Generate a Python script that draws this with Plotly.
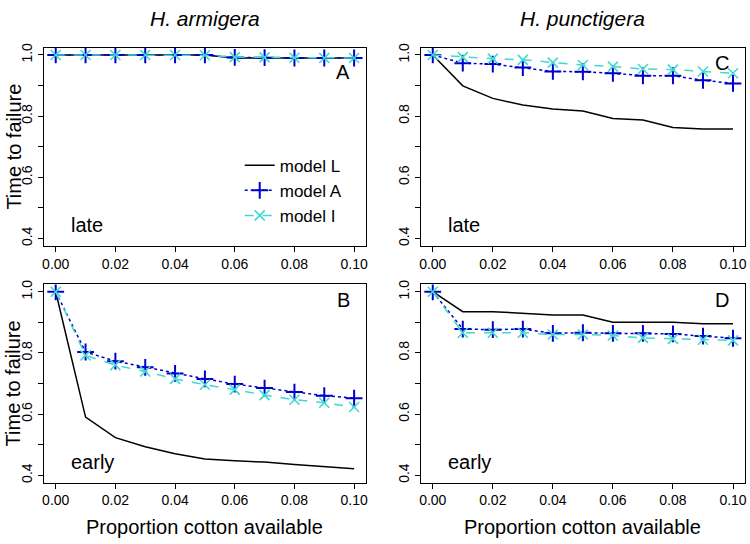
import plotly.graph_objects as go

# ---------------- data ----------------
proportion = [0.00, 0.01, 0.02, 0.03, 0.04, 0.05, 0.06, 0.07, 0.08, 0.09, 0.10]

armigera_late_L = [1.0, 1.0, 1.0, 1.0, 1.0, 1.0, 0.990, 0.990, 0.990, 0.990, 0.990]
armigera_late_A = [1.0, 1.0, 1.0, 1.0, 1.0, 1.0, 0.992, 0.991, 0.990, 0.990, 0.990]
armigera_late_I = [1.0, 1.0, 1.0, 1.0, 1.0, 0.999, 0.993, 0.992, 0.991, 0.990, 0.990]

armigera_early_L = [1.0, 0.590, 0.523, 0.493, 0.470, 0.453, 0.447, 0.443, 0.435, 0.428, 0.421]
armigera_early_A = [1.0, 0.803, 0.773, 0.753, 0.733, 0.715, 0.698, 0.685, 0.672, 0.660, 0.652]
armigera_early_I = [1.0, 0.792, 0.760, 0.739, 0.715, 0.696, 0.680, 0.662, 0.647, 0.637, 0.623]

punctigera_late_L = [1.0, 0.899, 0.858, 0.836, 0.823, 0.817, 0.792, 0.787, 0.763, 0.758, 0.758]
punctigera_late_A = [1.0, 0.973, 0.970, 0.959, 0.946, 0.945, 0.940, 0.932, 0.932, 0.917, 0.907]
punctigera_late_I = [1.0, 0.993, 0.988, 0.984, 0.975, 0.967, 0.962, 0.954, 0.952, 0.946, 0.940]

punctigera_early_L = [1.0, 0.935, 0.935, 0.930, 0.924, 0.924, 0.900, 0.900, 0.900, 0.895, 0.895]
punctigera_early_A = [1.0, 0.878, 0.876, 0.878, 0.864, 0.866, 0.864, 0.864, 0.862, 0.855, 0.848]
punctigera_early_I = [1.0, 0.866, 0.866, 0.866, 0.860, 0.860, 0.857, 0.849, 0.846, 0.843, 0.841]

model_names = ["model L", "model A", "model I"]
species = ["H. armigera", "H. punctigera"]
timing = ["late", "early"]
panel_letters = ["A", "C", "B", "D"]  # order: top-left, top-right, bottom-left, bottom-right

x_tickvals = [0.00, 0.02, 0.04, 0.06, 0.08, 0.10]
x_ticktext = ["0.00", "0.02", "0.04", "0.06", "0.08", "0.10"]
y_tickvals = [0.4, 0.5, 0.6, 0.7, 0.8, 0.9, 1.0]
y_ticktext = ["0.4", "", "0.6", "", "0.8", "", "1.0"]

panels = [
    (armigera_late_L, armigera_late_A, armigera_late_I),
    (punctigera_late_L, punctigera_late_A, punctigera_late_I),
    (armigera_early_L, armigera_early_A, armigera_early_I),
    (punctigera_early_L, punctigera_early_A, punctigera_early_I),
]

# ---------------- styling ----------------
W, H = 750, 544
FONT = "Liberation Sans, Arial, Helvetica, sans-serif"
BLUE = "#0000CD"
TURQ = "#40D8D0"


def px(v):
    return v / W


def py(v):
    return 1 - v / H


# panel boxes in pixels: (left, right, top, bottom)
boxes = [
    (42, 366, 43, 243),
    (421, 747, 43, 243),
    (42, 366, 282, 482),
    (421, 747, 282, 482),
]

fig = go.Figure()

styles = [
    dict(mode="lines", line=dict(color="black", width=1.5)),
    dict(mode="lines+markers", line=dict(color=BLUE, width=1.5, dash="dot"),
         marker=dict(symbol="cross-thin", size=12, color=BLUE, line=dict(color=BLUE, width=2))),
    dict(mode="lines+markers", line=dict(color=TURQ, width=1.5, dash="dash"),
         marker=dict(symbol="x-thin", size=10, color=TURQ, line=dict(color=TURQ, width=1.6))),
]

layout_axes = {}
for i, (series, box) in enumerate(zip(panels, boxes)):
    n = i + 1
    xa = "x" if n == 1 else f"x{n}"
    ya = "y" if n == 1 else f"y{n}"
    for j, (vals, st) in enumerate(zip(series, styles)):
        fig.add_trace(go.Scatter(
            x=proportion, y=vals, xaxis=xa, yaxis=ya,
            name=model_names[j], showlegend=(i == 0), **st))
    l, r, t, b = box
    xkey = "xaxis" if n == 1 else f"xaxis{n}"
    ykey = "yaxis" if n == 1 else f"yaxis{n}"
    layout_axes[xkey] = dict(
        domain=[px(l), px(r)], anchor=ya, range=[-0.004, 0.104],
        tickvals=x_tickvals, ticktext=x_ticktext, ticks="outside", ticklen=5,
        tickwidth=1, tickcolor="black", showline=True, mirror=True,
        linecolor="black", linewidth=1.2, showgrid=False, zeroline=False,
        tickfont=dict(family=FONT, size=14, color="black"))
    layout_axes[ykey] = dict(
        domain=[py(b), py(t)], anchor=xa, range=[0.376, 1.024],
        tickvals=y_tickvals, ticktext=y_ticktext, ticks="outside", ticklen=5,
        tickwidth=1, tickcolor="black", showline=True, mirror=True,
        linecolor="black", linewidth=1.2, showgrid=False, zeroline=False,
        tickangle=-90,
        tickfont=dict(family=FONT, size=14, color="black"))

fig.update_layout(**layout_axes)

annotations = []
# species titles
for k, sp in enumerate(species):
    l, r, t, b = boxes[k]
    annotations.append(dict(text=f"<i>{sp}</i>", xref="paper", yref="paper",
                            x=px((l + r) / 2), y=py(14), showarrow=False,
                            xanchor="center", yanchor="middle",
                            font=dict(family=FONT, size=21, color="black")))
# x-axis titles
for k in (2, 3):
    l, r, t, b = boxes[k]
    annotations.append(dict(text="Proportion cotton available", xref="paper", yref="paper",
                            x=px((l + r) / 2), y=py(527), showarrow=False,
                            xanchor="center", yanchor="middle",
                            font=dict(family=FONT, size=20, color="black")))
# y-axis titles
for k in (0, 2):
    l, r, t, b = boxes[k]
    annotations.append(dict(text="Time to failure", xref="paper", yref="paper",
                            x=px(12), y=py((t + b) / 2), showarrow=False,
                            textangle=-90, xanchor="center", yanchor="middle",
                            font=dict(family=FONT, size=20, color="black")))
# late / early labels and panel letters
for k, box in enumerate(boxes):
    l, r, t, b = box
    lab = timing[0] if k < 2 else timing[1]
    annotations.append(dict(text=lab, xref="paper", yref="paper",
                            x=px(l + 25), y=py(b - 21), showarrow=False,
                            xanchor="left", yanchor="middle",
                            font=dict(family=FONT, size=20, color="black")))
    dy = 25 if k == 0 else 16
    annotations.append(dict(text=panel_letters[k], xref="paper", yref="paper",
                            x=px(r - 14), y=py(t + dy), showarrow=False,
                            xanchor="right", yanchor="middle",
                            font=dict(family=FONT, size=20, color="black")))

fig.update_layout(
    width=W, height=H, margin=dict(l=0, r=0, t=0, b=0),
    paper_bgcolor="white", plot_bgcolor="white",
    annotations=annotations,
    legend=dict(x=px(239), y=py(144), xanchor="left", yanchor="top",
                bgcolor="rgba(0,0,0,0)", borderwidth=0,
                font=dict(family=FONT, size=17, color="black"),
                tracegroupgap=0, itemwidth=30),
    font=dict(family=FONT, color="black"),
    hovermode=False,
)

fig.write_html("out.html",
               config={"displayModeBar": False},
               post_script="document.body.style.margin='0';document.body.style.overflow='hidden';")
